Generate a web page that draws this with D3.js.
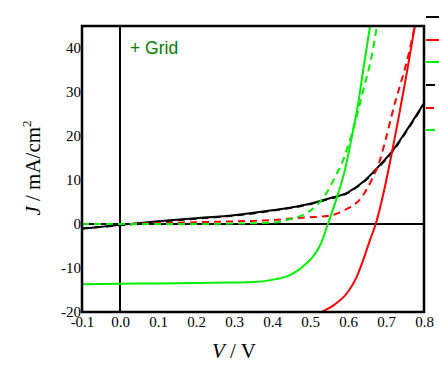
<!DOCTYPE html>
<html><head><meta charset="utf-8">
<script src="https://cdn.jsdelivr.net/npm/d3@7"></script>
<style>body{margin:0;background:#fff}</style>
</head><body>
<svg id="c" width="439" height="366"></svg>
<script>
const xTicks = [-0.1,0.0,0.1,0.2,0.3,0.4,0.5,0.6,0.7,0.8];
const yTicks = [-20,-10,0,10,20,30,40];

const blackSolidV = [-0.1,0,0.1,0.2,0.3,0.4,0.5,0.55,0.6,0.636,0.684,0.715,0.755,0.8];
const blackSolidJ = [-1.1,-0.2,0.6,1.3,2.0,3.1,4.6,5.8,7.2,9.3,13.4,16.4,21.4,27.5];
const blackDashV = [-0.1,0,0.1,0.2,0.3,0.4,0.5,0.55,0.6,0.636,0.684,0.715,0.755,0.8];
const blackDashJ = [-1.0,-0.3,0.5,1.2,1.9,3.0,4.5,5.7,7.1,9.2,13.2,16.2,21.2,27.2];

const redSolidV = [0.53,0.56,0.6,0.623,0.64,0.658,0.673,0.697,0.715,0.732,0.755,0.776];
const redSolidJ = [-20,-18.6,-15.4,-12,-8.2,-3.6,0,8.4,16,23.6,34.5,45];
const redDashV = [-0.1,0,0.1,0.2,0.3,0.4,0.49,0.545,0.592,0.636,0.662,0.684,0.70,0.72,0.737,0.755,0.776];
const redDashJ = [0,0,0.2,0.4,0.6,0.9,1.5,1.8,3.2,6.1,10,14.5,19.5,26.4,31.5,37,45];

const greenSolidV = [-0.1,0,0.1,0.2,0.3,0.35,0.4,0.447,0.474,0.49,0.51,0.528,0.547,0.571,0.592,0.61,0.627,0.64,0.658];
const greenSolidJ = [-13.7,-13.6,-13.5,-13.4,-13.3,-13.2,-12.7,-11.6,-10.2,-9.0,-7.2,-4.6,0,6.1,12.3,19.8,27.5,35,45];
const greenDashV = [-0.1,0,0.1,0.2,0.3,0.4,0.447,0.495,0.54,0.566,0.587,0.61,0.642,0.664,0.676];
const greenDashJ = [0,0,0,0,0.1,0.3,1.1,2.7,6.6,10.7,14.5,20.5,31,38.9,45];

const svg = d3.select("#c");
const L=82,R=424,T=26,B=312;
const x = d3.scaleLinear().domain([-0.1,0.8]).range([L,R]);
const y = d3.scaleLinear().domain([-20,45]).range([B,T]);

svg.append("clipPath").attr("id","clip").append("rect").attr("x",L).attr("y",T).attr("width",R-L).attr("height",B-T);

// zero reference lines
svg.append("line").attr("x1",x(0)).attr("x2",x(0)).attr("y1",T).attr("y2",B).attr("stroke","#000").attr("stroke-width",2);
svg.append("line").attr("x1",L).attr("x2",R).attr("y1",y(0)).attr("y2",y(0)).attr("stroke","#000").attr("stroke-width",2);

const line = d3.line().x(d=>x(d[0])).y(d=>y(d[1])).curve(d3.curveMonotoneX);
const series = [
  {V:blackDashV,J:blackDashJ,c:"#000",dash:"7,5"},
  {V:blackSolidV,J:blackSolidJ,c:"#000",dash:null},
  {V:redDashV,J:redDashJ,c:"#ff0000",dash:"7,5"},
  {V:greenDashV,J:greenDashJ,c:"#00f000",dash:"7,5"},
  {V:redSolidV,J:redSolidJ,c:"#ff0000",dash:null},
  {V:greenSolidV,J:greenSolidJ,c:"#00f000",dash:null}
];
const g = svg.append("g").attr("clip-path","url(#clip)");
series.forEach(s=>{
  const p = g.append("path").datum(s.V.map((v,i)=>[v,s.J[i]]))
    .attr("d",line).attr("fill","none").attr("stroke",s.c).attr("stroke-width",2);
  if(s.dash) p.attr("stroke-dasharray",s.dash);
});

// frame
svg.append("rect").attr("x",L).attr("y",T).attr("width",R-L).attr("height",B-T)
  .attr("fill","none").attr("stroke","#000").attr("stroke-width",2.5);

// axes (labels only)
const xa = svg.append("g").attr("transform",`translate(0,${B})`)
  .call(d3.axisBottom(x).tickValues(xTicks).tickFormat(d3.format(".1f")).tickSize(0).tickPadding(4));
const ya = svg.append("g").attr("transform",`translate(${L},0)`)
  .call(d3.axisLeft(y).tickValues(yTicks).tickSize(0).tickPadding(1));
[xa,ya].forEach(a=>{a.select(".domain").remove();
  a.selectAll("text").attr("font-family","'Liberation Serif','Times New Roman',serif").attr("font-size",15).attr("fill","#000");});
xa.selectAll("text").text(d=>d3.format(".1f")(d).replace("−","-"));
ya.selectAll("text").text(d=>String(d));

// axis titles
const xt = svg.append("text").attr("x",234).attr("y",358).attr("text-anchor","middle")
  .attr("font-family","'Liberation Serif','Times New Roman',serif").attr("font-size",21);
xt.append("tspan").attr("font-style","italic").text("V");
xt.append("tspan").text(" / V");
const yt = svg.append("text").attr("transform","translate(40,168) rotate(-90)").attr("text-anchor","middle")
  .attr("font-family","'Liberation Serif','Times New Roman',serif").attr("font-size",21);
yt.append("tspan").attr("font-style","italic").text("J");
yt.append("tspan").text(" / mA/cm");
yt.append("tspan").attr("font-size",13).attr("dy",-9).text("2");

svg.append("text").attr("x",130).attr("y",54).attr("fill","#008000")
  .attr("font-family","'Liberation Sans',Arial,sans-serif").attr("font-size",17.5).text("+ Grid");

// legend stubs (labels off-canvas)
const legColors = ["#000","#ff0000","#00f000","#000","#ff0000","#00f000"];
const legY = [17,40,62,85,108,130];
const legLen = [16,16,16,9,8,9];
legColors.forEach((c,i)=>{
  svg.append("line").attr("x1",426).attr("x2",426+legLen[i]).attr("y1",legY[i]).attr("y2",legY[i])
    .attr("stroke",c).attr("stroke-width",2);
});
</script>
</body></html>
